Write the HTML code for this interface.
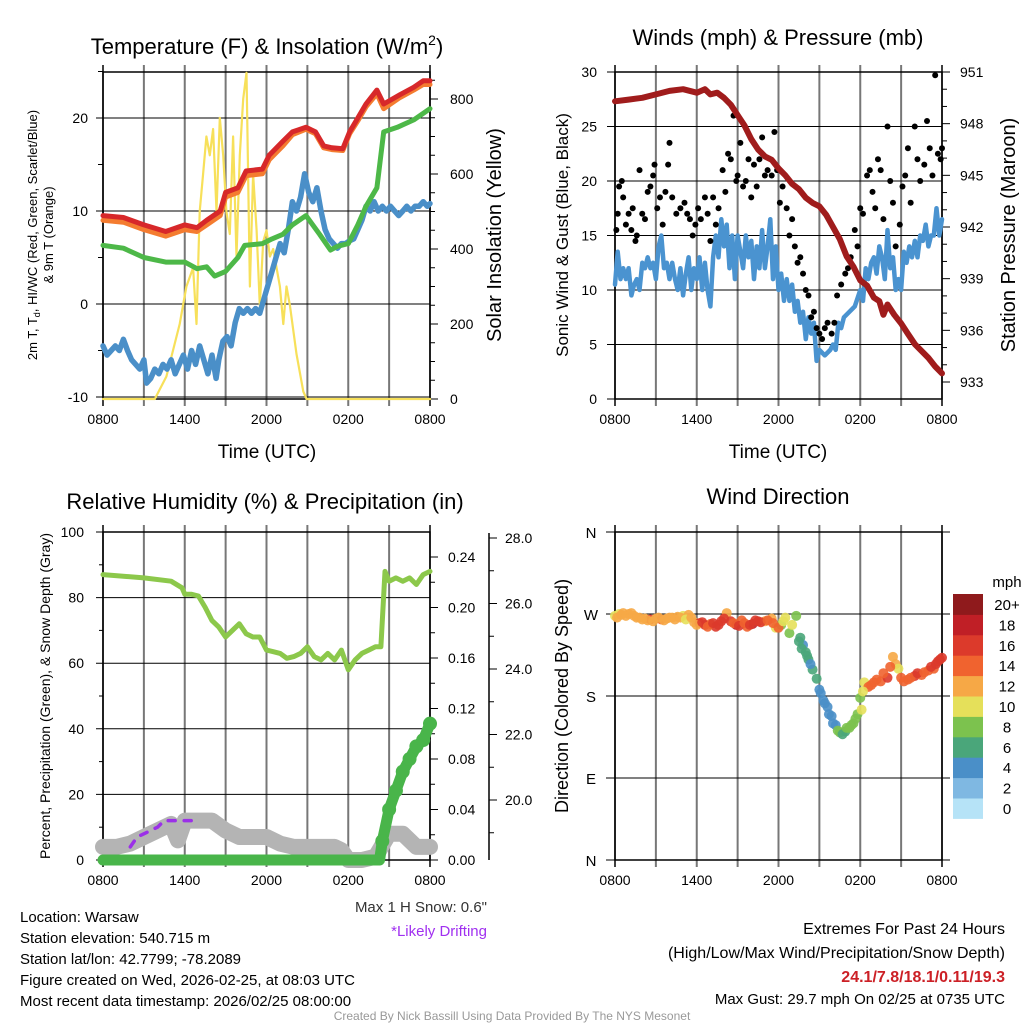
<!DOCTYPE html>
<html><head><meta charset="utf-8"><style>
html,body{margin:0;padding:0;background:#fff;}
svg{display:block;font-family:"Liberation Sans",sans-serif;}
</style></head><body>
<svg id="fig" width="1024" height="1024" viewBox="0 0 1024 1024" xmlns="http://www.w3.org/2000/svg"></svg>
<script>
// ---- Panel 1 data: temperature (F) & insolation ----
const tHours = [0,1.5,3,4.6,6,6.9,7.6,8.6,9,9.9,10.5,11.7,12.2,13.2,13.9,14.9,15.6,16.2,16.8,17.6,18.1,18.7,19.3,20.1,20.6,21.8,22.8,23.5,24];
const tempRed = [9.5,9.3,8.5,7.8,8.5,8.2,9,10,12,12.5,14.3,14.5,16,17.5,18.5,19,18.5,17,16.8,16.7,18.5,20,21.5,23,21.5,22.5,23.3,24,24];
const temp9m = [9,8.8,8,7.3,8,7.8,8.5,9.5,11.5,12,13.8,14,15.5,17,18.2,18.8,18.3,16.8,16.6,16.5,18.3,19.7,21.2,22.6,21,22.2,23,23.6,23.6];
const dHours = [0,1.5,3,4.6,6,6.9,7.6,8.2,9,9.9,10.4,11.7,12.4,13.2,13.9,14.9,15.9,16.7,17.2,18,18.7,19.3,20.1,20.6,21.6,22.8,24];
const dewGreen = [6.3,6,5,4.5,4.5,3.8,4,3,3.5,5,6.3,6.5,7,7.5,8.5,9.5,7.5,5.8,6.2,6.5,8.5,10.5,12.5,18.5,19,19.8,21];
const wcHours = [0,0.3,0.6,0.9,1.2,1.5,1.8,2.1,2.4,2.7,3.0,3.2,3.5,3.8,4.1,4.4,4.7,5.0,5.3,5.6,5.9,6.2,6.5,6.8,7.1,7.4,7.7,8.0,8.3,8.5,8.8,9.1,9.4,9.7,10.0,10.3,10.6,10.9,11.2,11.5,11.8,12.1,12.4,12.7,13.0,13.3,13.6,13.9,14.2,14.5,14.8,15.1,15.4,15.7,16.0,16.3,16.6,16.9,17.2,17.5,17.8,18.1,18.4,18.7,19.0,19.3,19.6,19.9,20.2,20.5,20.8,21.1,21.4,21.7,22.0,22.3,22.6,22.9,23.2,23.5,23.8,24];
const wcBlue = [-4.5,-5.5,-5,-4.5,-5,-3.8,-5,-6,-6.5,-7,-6,-8.5,-8,-7,-7.5,-6.5,-7,-6,-7.5,-6.5,-5.5,-7,-5,-6.5,-4.5,-6,-7.5,-5.5,-8,-6,-4,-3.5,-4.5,-2,-0.5,-1,-0.5,-1,-0.5,-1,0.5,2,3.5,5,6.5,5.5,8,11,10,11.5,14,12,11,12.5,10,8,7,6.5,6,6.5,6.5,6.8,7,8,9,10.5,10,11,10,10.5,10,10.5,10,9.5,10,10.5,10,10.5,10.5,11,10.5,10.8];
const solarHours = [0,3.8,4.65,5.63,6.12,6.61,6.86,7.1,7.35,7.59,7.84,8.08,8.33,8.57,8.82,9.06,9.31,9.55,9.8,10.04,10.29,10.53,10.78,11.02,11.27,11.51,11.76,12,12.25,12.49,12.98,13.23,13.47,13.72,14.2,14.7,14.94,24];
const solar = [0,0,60,200,300,350,200,500,600,700,650,720,500,750,650,500,440,700,380,650,800,870,300,600,450,250,420,450,380,400,300,200,300,250,120,20,0,0];
const xTickLabels = ["0800","1400","2000","0200","0800"];
const tempTicks = [-10,0,10,20];
const solarTicks = [0,200,400,600,800];
// ---- Panel 2 data: winds & pressure ----
const windHours = [0,0.2,0.4,0.6,0.8,1.0,1.2,1.4,1.6,1.8,2.0,2.2,2.4,2.6,2.8,3.0,3.2,3.4,3.6,3.8,4.0,4.2,4.4,4.6,4.8,5.0,5.2,5.4,5.6,5.8,6.0,6.2,6.4,6.6,6.8,7.0,7.2,7.4,7.6,7.8,8.0,8.2,8.4,8.6,8.8,9.0,9.2,9.4,9.6,9.8,10.0,10.2,10.4,10.6,10.8,11.0,11.2,11.4,11.6,11.8,12.0,12.2,12.4,12.6,12.8,13.0,13.2,13.4,13.6,13.8,14.0,14.2,14.4,14.6,14.8,15.0,15.4,15.8,16.0,16.2,16.4,16.6,16.8,17.2,17.6,18.0,18.2,18.4,18.6,18.8,19.0,19.2,19.4,19.6,19.8,20.0,20.2,20.4,20.6,20.8,21.0,21.2,21.4,21.6,21.8,22.0,22.2,22.4,22.6,22.8,23.0,23.2,23.4,23.6,23.8,24];
const windBlue = [10.5,13.5,11,12,11,12,9.5,10.5,11,10,12.5,12,13,12,12.5,11,14,15,12,12.5,11,12.5,11,10,12,9.5,11.5,13,10,12,11,13,10,12.5,10,8.5,13,15,13,16.5,14,16,12,15,11,15,13.5,12,15,13,14.5,11,14,12,15.5,12,14,16.5,11,14,10,11.5,9,11,9,10.5,8,9,7,8,5.5,7.5,6,7,3.5,4.5,4,4.5,5,4.5,7,6.5,7.5,8,8.5,10,9,12,11,12.5,13,11.5,14,13,11,15.5,12,13,10,11,10,13.5,12.5,14,13,14.5,13,15,14.5,16,14,15,15,17.5,15,16.5];
const gustHours = [0.1,0.2,0.3,0.5,0.6,0.8,1,1.2,1.3,1.5,1.6,1.8,2,2.2,2.4,2.6,2.8,2.9,3.1,3.3,3.5,3.7,3.9,4,4.2,4.5,4.8,5.1,5.3,5.5,5.7,5.9,6.1,6.3,6.6,6.8,7,7.2,7.4,7.6,7.9,8.1,8.3,8.5,8.7,8.9,9,9.2,9.4,9.6,9.8,10,10.2,10.4,10.6,10.8,11,11.2,11.5,11.7,11.9,12.1,12.3,12.6,12.8,13,13.2,13.4,13.6,13.8,14,14.2,14.4,14.6,14.8,15,15.2,15.4,15.6,15.9,16.1,16.3,16.6,16.9,17.1,17.3,17.6,17.8,18,18.2,18.5,18.7,18.9,19.1,19.3,19.5,19.7,20,20.2,20.4,20.6,20.9,21.1,21.3,21.5,21.7,22,22.2,22.4,22.7,22.9,23.1,23.3,23.5,23.7,23.9,24];
const gustBlack = [15.5,17,19.5,20,18.5,16,17,15.5,17.5,14.5,15,21,17,16.5,19,19.5,20.5,21.5,17.5,18.5,16,19,21.5,23.5,18.5,17,17.5,18,17,16.5,15,16,17.5,16.5,18.5,17,14.5,18.5,16,17.5,21,19,22.5,22,26,20,20.5,23.5,19.5,20,22,18.5,21.5,19.5,22,24,20.5,21,20.5,24.5,21,18,19.5,17.5,15,16.5,14,12.5,13,11.5,10,9.5,7.5,8,6.5,6,5.5,6.5,7,6,7,9.5,10.5,11.5,12,13,15.5,14,17.5,17,20.5,21,19,17.5,22,21,16.5,25,20,18,14,16,19.5,20.5,23,18,25,22,20,21.5,25.5,23,20.5,29.7,22.5,22,23];
const presHours = [0,1,2,3,4,5,6,6.6,7,7.5,8,8.5,9,9.5,10,10.5,11,11.5,12,12.5,13,13.5,14,14.5,15,15.5,16,16.5,17,17.5,18,18.5,19,19.4,19.7,20,20.5,21,21.5,22,22.5,23,23.5,24];
const pressure = [949.3,949.4,949.5,949.7,949.9,950.0,949.8,950.0,949.7,949.8,949.5,949.1,948.5,947.9,947.1,946.5,946.1,945.9,945.4,945.0,944.5,944.2,943.7,943.4,943.2,942.7,942.0,941.3,940.3,939.7,938.9,938.6,937.9,937.7,936.9,937.5,936.9,936.4,935.8,935.2,934.8,934.4,933.9,933.5];
const windTicks = [0,5,10,15,20,25,30];
const presTicks = [933,936,939,942,945,948,951];
// ---- Panel 3 data: RH, precip, snow ----
const rhHours = [0,3,5,5.8,6,6.5,7,7.5,8,8.5,9,9.5,10,10.5,11,11.5,12,12.5,13,13.5,14,14.5,15,15.5,16,16.5,17,17.5,18,18.5,19,19.5,20,20.4,20.7,21,21.5,22,22.5,23,23.5,24];
const rh = [87,86,85,83,81,81,80.5,77,73,71,68,70,72,69,68,68,64,63.5,63,61.5,62,63,65,62,61,63,61,64,58,61,63,64,65,65,88,85,86,85,86,84,87,88];
const snowHours = [0,1,2,3,4,5,5.5,6,7,8,9,10,11,12,13,14,15,16,17,17.5,18,19,20,21,22,23,24];
const snowDepthPct = [4,4,5,7,9,11,6,12,12,12,9,7,7,7,5,4,4,4,4,3,0,0,1,8,8,4,4];
const precipHours = [0,20.3,20.5,21,21.5,22,22.5,23,23.5,24];
const precipIn = [0,0,0.015,0.04,0.055,0.07,0.08,0.09,0.095,0.108];
const driftHours = [2,2.5,3,4,4.5,4.6,6.2,6.8];
const driftPct = [4,7,8,10,12,12,12,12];
const rhTicks = [0,20,40,60,80,100];
const precipTicks = ["0.00","0.04","0.08","0.12","0.16","0.20","0.24"];
const snowTicks = ["20.0","22.0","24.0","26.0","28.0"];
// ---- Panel 4 data: wind direction ----
const dirHours = [0,0.3,0.6,1,1.4,1.8,2.2,2.6,3,3.4,3.8,4.2,4.6,5,5.4,5.8,6.2,6.6,7,7.4,7.8,8.2,8.5,8.9,9.3,9.7,10.1,10.5,11,11.5,11.8,12.2,12.5,12.8,13,13.3,13.6,13.8,14,14.2,14.5,14.8,15,15.3,15.6,15.9,16.2,16.5,16.9,17.2,17.5,17.8,18,18.1,18.3,18.6,19,19.5,20,20.4,20.6,20.8,21,21.5,22,22.5,23,23.4,23.7,24,
  0.15,0.45,0.8,1.2,1.6,2.0,2.4,2.8,3.2,3.6,4.0,4.4,4.8,5.2,5.6,6.0,6.4,6.8,7.2,7.6,8.0,8.7,9.1,9.5,9.9,10.3,10.7,11.2,11.6,12.0,12.35,13.5,13.7,14.1,14.35,15.1,15.4,15.7,16.0,16.35,16.7,17.0,17.35,17.65,18.2,18.8,19.2,19.7,20.2,21.2,21.7,22.2,22.7,23.2,23.55,23.85];
const dirDeg = [268,270,271,270,268,266,265,264,265,264,265,266,267,268,269,261,260,258,259,256,262,271,262,258,263,256,259,262,262,265,255,258,266,249,258,268,244,236,228,220,209,199,187,175,168,158,148,140,141,145,150,160,178,165,195,190,195,196,200,223,215,210,200,198,202,203,208,210,218,222,
  266,269,268,271,266,264,263,262,266,263,266,264,266,264,266,258,261,256,260,258,265,260,257,260,258,263,261,263,260,255,262,240,232,224,215,183,172,160,150,142,138,145,148,155,185,192,198,205,212,196,200,205,206,212,215,220];
const dirSpeed = [10,11,12,12,13,12,13,17,13,15,12,13,12,10,12,13,16,17,15,16,17,12,16,18,15,14,18,16,13,12,10,9,10,8,10,8,6,4,6,6,6,6,4,4,5,4,4,8,6,8,8,8,8,10,10,14,14,14,16,12,12,10,14,14,16,14,14,14,17,16,
  12,12,12,13,12,13,12,13,12,13,12,13,12,11,12,13,16,15,16,17,16,14,17,15,16,16,17,15,14,14,11,6,6,6,4,4,4,4,4,8,6,8,8,8,10,14,14,15,14,14,15,16,14,16,17,16];
const dirTicks = ["N","E","S","W","N"];
const speedBins = ["0","2","4","6","8","10","12","14","16","18","20+"];
const binColors = ["#b6e3f7","#7fb8e2","#4a8fc8","#4aa67a","#7cc24e","#e5e05a","#f6a846","#f0632f","#dc3a2b","#c01f26","#8f1a1c"];

const NS = "http://www.w3.org/2000/svg";
const svg = document.getElementById("fig");
function mk(tag, attrs, parent){
  const e = document.createElementNS(NS, tag);
  for (const k in attrs) e.setAttribute(k, attrs[k]);
  (parent||svg).appendChild(e);
  return e;
}
function txt(s, x, y, size, anchor, parent, name, extra){
  const e = mk("text", Object.assign({x:x, y:y, "font-size":size, "text-anchor":anchor||"middle", fill:"#000"}, extra||{}), parent);
  e.textContent = s;
  
  
  return e;
}
function line(x1,y1,x2,y2,stroke,w,parent){
  return mk("line",{x1:x1,y1:y1,x2:x2,y2:y2,stroke:stroke,"stroke-width":w},parent);
}
function panel(name, L, R, T, B){
  const g = mk("g",{});
  
  
  const xs = h => L + (R-L)*h/24;
  for (let i=0;i<=8;i++){
    const x = xs(i*3);
    line(x, T-7, x, B+7, (i==0||i==8)?"#000":"#777", (i==0||i==8)?1.5:2, g);
  }
  for (let i=0;i<5;i++) txt(xTickLabels[i], xs(i*6), B+25, 14, "middle", g, "x-tick-label");
  return {g, xs};
}
function polyline(hs, vs, xs, ys, color, w, parent, name, dash){
  const pts = hs.map((h,i)=> xs(h).toFixed(1)+","+ys(vs[i]).toFixed(1)).join(" ");
  const e = mk("polyline",{points:pts, fill:"none", stroke:color, "stroke-width":w, "stroke-linejoin":"round", "stroke-linecap":"round"}, parent);
  if (dash) e.setAttribute("stroke-dasharray", dash);
  
  
  return e;
}

// ===== Panel 1 =====
(function(){
  const L=103,R=430,T=72,B=399;
  const p = panel("temperature-panel", L,R,T,B);
  const g=p.g, xs=p.xs;
  const ys = v => 304 - v*9.3;
  const ysol = v => 399 - v*0.375;
  tempTicks.forEach(v=>{ line(96,ys(v),R,ys(v),"#000",1,g); txt(String(v), 88, ys(v)+5, 14, "end", g, "temp-tick-label"); });
  for (let v=-10; v<=25; v+=5) if (v%10) line(98,ys(v),L,ys(v),"#000",1,g);
  solarTicks.forEach(v=>{ line(R,ysol(v),R+8,ysol(v),"#000",1,g); txt(String(v), 450, ysol(v)+5, 14, "start", g, "solar-tick-label"); });
  for (let v=50; v<=850; v+=50) if (v%200) line(R,ysol(v),R+5,ysol(v),"#000",1,g);
  mk("rect",{x:L,y:T,width:R-L,height:B-T,fill:"none",stroke:"#000","stroke-width":1.5},g);
  polyline(solarHours, solar, xs, ysol, "#f7e05a", 2.2, g, "solar-insolation-line");
  polyline(wcHours, wcBlue, xs, ys, "#4a8fc8", 5.5, g, "wind-chill-line");
  polyline(dHours, dewGreen, xs, ys, "#4db848", 5, g, "dewpoint-line");
  polyline(tHours, temp9m, xs, ys, "#f47c30", 5, g, "temp-9m-line");
  polyline(tHours, tempRed, xs, ys, "#d7282a", 5, g, "temp-2m-line");
  const t = mk("text",{x:267,y:54,"font-size":22,"text-anchor":"middle"},g);
  t.innerHTML = 'Temperature (F) &amp; Insolation (W/m<tspan dy="-9" font-size="14">2</tspan><tspan dy="9">)</tspan>';
  
  
  const yl = mk("text",{x:0,y:0,"font-size":13,"text-anchor":"middle",transform:"translate(37,235) rotate(-90)"},g);
  yl.innerHTML = '2m T, T<tspan font-size="9" dy="3">d</tspan><tspan dy="-3">, HI/WC (Red, Green, Scarlet/Blue)</tspan>';
  
  
  txt("& 9m T (Orange)", 0, 0, 13, "middle", g, "temperature-y-axis-title-2", {transform:"translate(53,235) rotate(-90)"});
  txt("Solar Insolation (Yellow)", 0, 0, 20, "middle", g, "solar-y-axis-title", {transform:"translate(501,235) rotate(-90)"});
  txt("Time (UTC)", 267, 458, 19, "middle", g, "x-axis-title");
})();

// ===== Panel 2 =====
(function(){
  const L=615,R=942,T=72,B=399;
  const p = panel("winds-panel", L,R,T,B);
  const g=p.g, xs=p.xs;
  const ys = v => B - v*(B-T)/30;
  const yp = v => 382 - (v-933)*(382-72)/18;
  windTicks.forEach(v=>{ line(607,ys(v),R,ys(v),"#000",1,g); txt(String(v), 597, ys(v)+5, 14, "end", g, "wind-tick-label"); });
  presTicks.forEach(v=>{ line(R,yp(v),R+8,yp(v),"#000",1,g); txt(String(v), 960, yp(v)+5, 14, "start", g, "pressure-tick-label"); });
  for (let v=934; v<951; v++) if ((v-933)%3) line(R,yp(v),R+5,yp(v),"#000",1,g);
  mk("rect",{x:L,y:T,width:R-L,height:B-T,fill:"none",stroke:"#000","stroke-width":1.5},g);
  polyline(windHours, windBlue, xs, ys, "#4a93d0", 4.5, g, "sonic-wind-line");
  gustHours.forEach((h,i)=>{
    const c = mk("circle",{cx:xs(h),cy:ys(gustBlack[i]),r:3,fill:"#000"},g);
    
    
  });
  polyline(presHours, pressure, xs, yp, "#a01c1c", 6, g, "pressure-line");
  txt("Winds (mph) & Pressure (mb)", 778, 45, 22, "middle", g, "winds-title");
  txt("Sonic Wind & Gust (Blue, Black)", 0, 0, 17, "middle", g, "wind-y-axis-title", {transform:"translate(568,235) rotate(-90)"});
  txt("Station Pressure (Maroon)", 0, 0, 20, "middle", g, "pressure-y-axis-title", {transform:"translate(1015,235) rotate(-90)"});
  txt("Time (UTC)", 778, 458, 19, "middle", g, "x-axis-title");
})();

// ===== Panel 3 =====
(function(){
  const L=103,R=430,T=532,B=860;
  const p = panel("humidity-panel", L,R,T,B);
  const g=p.g, xs=p.xs;
  const ys = v => B - v*(B-T)/100;
  const yin = v => B - v*(B-557)/0.24;
  const ysn = v => 800 - (v-20)*(800-538)/8;
  rhTicks.forEach(v=>{ line(96,ys(v),R,ys(v),"#000",1,g); txt(String(v), 84, ys(v)+5, 14, "end", g, "rh-tick-label"); });
  for (let v=10; v<100; v+=20) line(99,ys(v),L,ys(v),"#000",1,g);
  precipTicks.forEach(s=>{ const v=parseFloat(s); line(R,yin(v),R+8,yin(v),"#000",1,g); txt(s, 448, yin(v)+5, 14, "start", g, "precip-tick-label"); });
  for (let v=0.02; v<0.26; v+=0.04) line(R,yin(v),R+5,yin(v),"#000",1,g);
  line(489,533,489,860,"#000",1.5,g);
  snowTicks.forEach(s=>{ const v=parseFloat(s); line(489,ysn(v),497,ysn(v),"#000",1,g); txt(s, 505, ysn(v)+5, 14, "start", g, "snow-tick-label"); });
  for (let v=19; v<28.5; v+=1) if (v%2) line(489,ysn(v),494,ysn(v),"#000",1,g);
  mk("rect",{x:L,y:T,width:R-L,height:B-T,fill:"none",stroke:"#000","stroke-width":1.5},g);
  polyline(snowHours, snowDepthPct, xs, ys, "#b4b4b4", 16, g, "snow-depth-line");
  polyline(driftHours, driftPct, xs, ys, "#9b30e8", 3.5, g, "likely-drifting-line", "7 9");
  polyline(rhHours, rh, xs, ys, "#8cc84b", 5, g, "relative-humidity-line");
  polyline(precipHours, precipIn, xs, yin, "#49b54a", 11, g, "precipitation-line");
  precipHours.forEach((h,i)=>{ if (i>1){ const c=mk("circle",{cx:xs(h),cy:yin(precipIn[i]),r:7,fill:"#49b54a"},g);
    
     }});
  txt("Relative Humidity (%) & Precipitation (in)", 265, 509, 22, "middle", g, "humidity-title");
  txt("Percent, Precipitation (Green), & Snow Depth (Gray)", 0, 0, 14, "middle", g, "humidity-y-axis-title", {transform:"translate(50,696) rotate(-90)"});
})();

// ===== Panel 4 =====
(function(){
  const L=615,R=942,T=532,B=860;
  const p = panel("wind-direction-panel", L,R,T,B);
  const g=p.g, xs=p.xs;
  const yd = d => B - d*(B-T)/360;
  dirTicks.forEach((s,i)=>{ const y=yd(i*90); line(606,y,950,y,"#000",1,g); txt(s, 591, y+6, 15, "middle", g, "direction-tick-label"); });
  mk("rect",{x:L,y:T,width:R-L,height:B-T,fill:"none",stroke:"#000","stroke-width":1.5},g);
  dirHours.forEach((h,i)=>{
    const idx = Math.min(10, Math.floor(dirSpeed[i]/2));
    const c = mk("circle",{cx:xs(h),cy:yd(dirDeg[i]),r:5,fill:binColors[idx],"fill-opacity":0.9},g);
    
    
  });
  const cbT=594, cbH=20.4;
  speedBins.forEach((s,i)=>{
    const k = 10-i;
    const r = mk("rect",{x:953,y:cbT+k*cbH,width:30,height:cbH+0.5,fill:binColors[i]},g);
    
    
    txt(s, 1007, cbT+k*cbH+16, 15, "middle", g, "colorbar-label");
  });
  txt("mph", 1007, 587, 15, "middle", g, "colorbar-title");
  txt("Wind Direction", 778, 504, 22, "middle", g, "wind-direction-title");
  txt("Direction (Colored By Speed)", 0, 0, 18, "middle", g, "direction-y-axis-title", {transform:"translate(568,696) rotate(-90)"});
})();

// ===== Footer text =====
const infoLines = ["Location: Warsaw","Station elevation: 540.715 m","Station lat/lon: 42.7799; -78.2089","Figure created on Wed, 2026-02-25, at 08:03 UTC","Most recent data timestamp: 2026/02/25 08:00:00"];
infoLines.forEach((s,i)=> txt(s, 20, 922+i*21, 15, "start", svg, "station-info-line"));
txt('Max 1 H Snow: 0.6"', 487, 912, 15, "end", svg, "max-snow-note", {fill:"#333"});
txt("*Likely Drifting", 487, 936, 15, "end", svg, "likely-drifting-note", {fill:"#a030f0"});
txt("Extremes For Past 24 Hours", 1005, 934, 16, "end", svg, "extremes-heading");
txt("(High/Low/Max Wind/Precipitation/Snow Depth)", 1005, 958, 16, "end", svg, "extremes-subheading");
txt("24.1/7.8/18.1/0.11/19.3", 1005, 982, 16, "end", svg, "extremes-values", {fill:"#cc2026","font-weight":"bold"});
txt("Max Gust: 29.7 mph On 02/25 at 0735 UTC", 1005, 1004, 15, "end", svg, "max-gust-note");
txt("Created By Nick Bassill Using Data Provided By The NYS Mesonet", 512, 1020, 12, "middle", svg, "credit-footer", {fill:"#999"});
</script>
</body></html>
